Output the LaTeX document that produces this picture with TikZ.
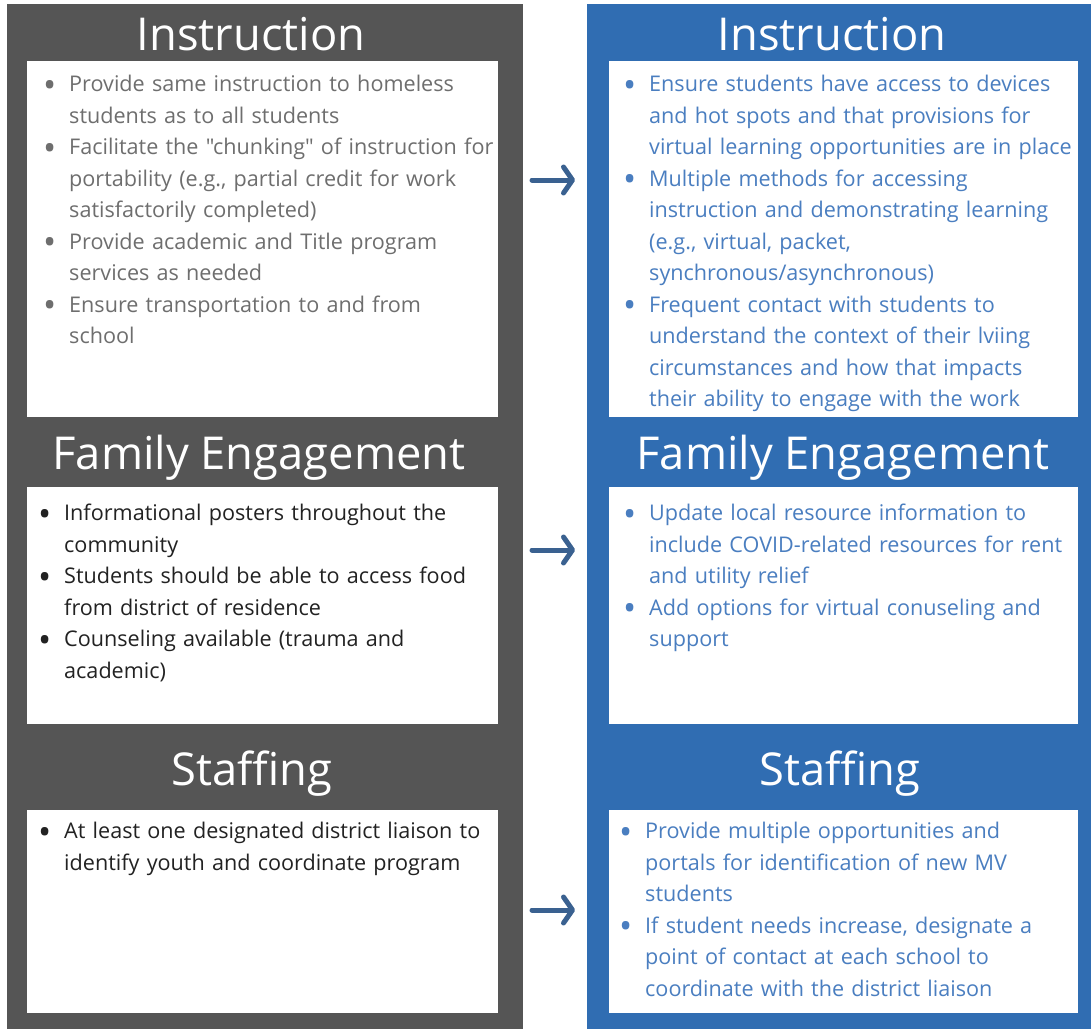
\documentclass[tikz,border=0pt]{standalone}
\usepackage{fontspec}
\setmainfont{Open Sans}[Ligatures=TeXOff]
\usepackage{enumitem}
\usetikzlibrary{arrows.meta}

\definecolor{leftgray}{HTML}{555555}
\definecolor{rightblue}{HTML}{306DB2}
\definecolor{graytext}{HTML}{6E6E6E}
\definecolor{darktext}{HTML}{222222}
\definecolor{bluetext}{HTML}{4A7EC0}
\definecolor{arrowcol}{HTML}{3A6190}

\tikzset{
  heading/.style={text=white, font=\fontsize{45.3}{50}\selectfont, anchor=base, inner sep=0pt},
  points/.style={anchor=base west, inner sep=0pt, text width=470pt, font=\fontsize{21.6}{31.5}\selectfont},
  flow/.style={line width=5pt, arrowcol, line cap=round, -{Straight Barb[length=9pt,width=26pt,line cap=round,line join=round]}}
}
\newcommand{\dotmark}{\raisebox{-5.5pt}{\fontsize{35}{0}\selectfont\textbullet}}
\newcommand{\pointlist}[1]{\raggedright\begin{itemize}[label=\dotmark, leftmargin=24pt, labelsep=13pt, itemsep=0pt, topsep=0pt, parsep=0pt, partopsep=0pt]#1\end{itemize}}

\begin{document}
\begin{tikzpicture}[x=1pt,y=-1pt]
\useasboundingbox (0,0) rectangle (1091,1029);
% columns
\fill [leftgray] (7,4) rectangle (523,1029);
\fill [rightblue] (587,4) rectangle (1091,1029);
\fill [white] (27,61) rectangle (498,417);
\fill [white] (27,487) rectangle (498,724);
\fill [white] (27,810) rectangle (498,1013);
\fill [white] (609,61) rectangle (1078,417);
\fill [white] (609,487) rectangle (1078,724);
\fill [white] (609,810) rectangle (1078,1013);

% headings
\node [heading] (lhead1) at (251,50) {Instruction};
\node [heading] (lhead2) at (259,469) {Family Engagement};
\node [heading] (lhead3) at (252,785) {Staffing};
\node [heading] (rhead1) at (832,50) {Instruction};
\node [heading] (rhead2) at (843,469) {Family Engagement};
\node [heading] (rhead3) at (840,785) {Staffing};

% left side
\node [points, text=graytext] (lpts1) at (45,60) {\pointlist{
  \item Provide same instruction to homeless\newline students as to all students
  \item Facilitate the "chunking" of instruction for\newline portability (e.g., partial credit for work\newline satisfactorily completed)
  \item Provide academic and Title program\newline services as needed
  \item Ensure transportation to and from\newline school}};
\node [points, text=darktext] (lpts2) at (40,489) {\pointlist{
  \item Informational posters throughout the\newline community
  \item Students should be able to access food\newline from district of residence
  \item Counseling available (trauma and\newline academic)}};
\node [points, text=darktext] (lpts3) at (40,807) {\pointlist{
  \item At least one designated district liaison to\newline identify youth and coordinate program}};

% right side
\node [points, text=bluetext] (rpts1) at (625,60) {\pointlist{
  \item Ensure students have access to devices\newline and hot spots and that provisions for\newline virtual learning opportunities are in place
  \item Multiple methods for accessing\newline instruction and demonstrating learning\newline (e.g., virtual, packet,\newline synchronous/asynchronous)
  \item Frequent contact with students to\newline understand the context of their lviing\newline circumstances and how that impacts\newline their ability to engage with the work}};
\node [points, text=bluetext] (rpts2) at (625,489) {\pointlist{
  \item Update local resource information to\newline include COVID-related resources for rent\newline and utility relief
  \item Add options for virtual conuseling and\newline support}};
\node [points, text=bluetext] (rpts3) at (621,807) {\pointlist{
  \item Provide multiple opportunities and\newline portals for identification of new MV\newline students
  \item If student needs increase, designate a\newline point of contact at each school to\newline coordinate with the district liaison}};

% arrows
\coordinate (from1) at (532,180);
\coordinate (to1) at (575,180);
\coordinate (from2) at (532,550);
\coordinate (to2) at (575,550);
\coordinate (from3) at (532,910);
\coordinate (to3) at (575,910);
\draw [flow] (from1) -- (to1);
\draw [flow] (from2) -- (to2);
\draw [flow] (from3) -- (to3);
\end{tikzpicture}
\end{document}
